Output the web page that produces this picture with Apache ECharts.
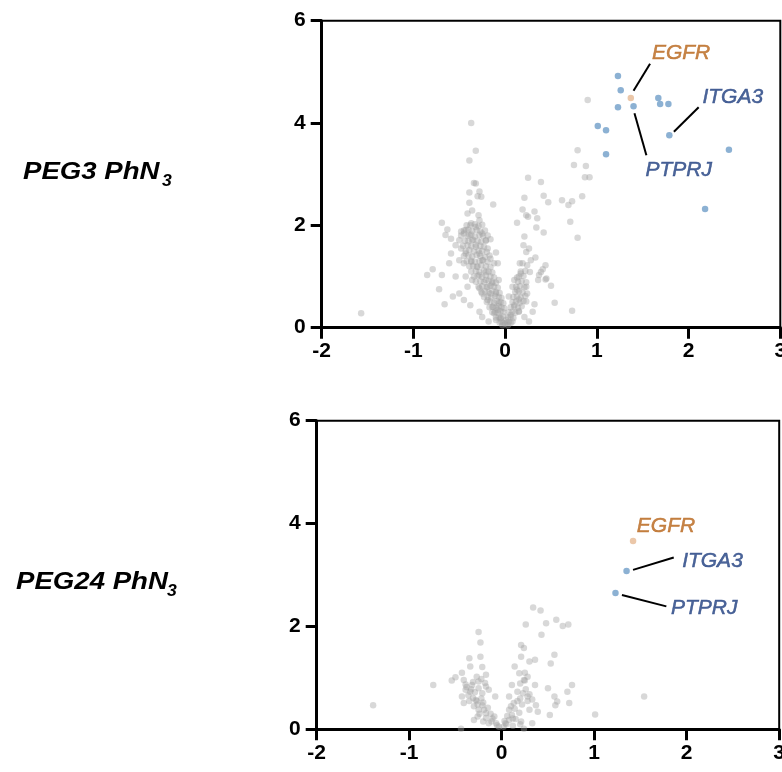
<!DOCTYPE html>
<html>
<head>
<meta charset="utf-8">
<script src="https://cdn.jsdelivr.net/npm/echarts@6/dist/echarts.min.js"></script>
<style>
html,body{margin:0;padding:0;background:#fff;}
#c{width:782px;height:772px;}
</style>
</head>
<body>
<div id="c"></div>
<script>
// ---------- DATA ----------
const xTicks = [-2, -1, 0, 1, 2, 3];
const yTicks = [0, 2, 4, 6];
const panelTitles = ['PEG3 PhN', 'PEG24 PhN'];
const geneNames = ['EGFR', 'ITGA3', 'PTPRJ'];

// PEG3 PhN3 panel: non-significant proteins (log2 FC, -log10 p)
const topGrey = [
[-1.57,0.28],[0.90,4.45],[-0.37,4.00],[-0.32,3.46],[-0.39,3.27],[0.79,3.47],[0.75,3.18],[0.88,3.16],[0.87,2.94],[0.92,2.94],
[0.84,2.57],[0.62,2.49],[0.69,2.40],[0.73,2.47],[0.71,2.07],[0.79,1.76],[0.73,0.33],
[0.25,2.93],[0.39,2.85],[0.42,2.58],[0.47,2.45],[0.21,2.54],[0.19,2.31],[0.23,2.20],[0.32,2.27],[0.35,2.14],[0.34,1.96],
[0.25,2.17],[0.13,2.05],[0.42,1.86],[0.21,1.78],[0.26,1.55],[0.23,1.48],[0.33,1.37],[0.28,1.32],[0.24,1.22],[0.19,1.26],
[0.44,1.22],[0.41,1.14],[0.37,1.03],[0.45,0.96],[0.50,0.82],[0.54,0.49],[0.32,0.46],[0.30,0.31],[0.23,0.51],[0.15,0.55],
[0.13,0.98],[0.10,0.93],[0.17,1.06],[0.08,0.80],[0.13,0.74],[0.04,0.61],[0.10,0.44],[0.15,0.31],[0.06,0.25],[0.23,0.80],
[0.24,0.67],[0.21,0.21],[0.26,0.12],[0.08,0.12],[0.03,0.05],[0.01,0.15],[0.20,1.61],[0.16,1.26],[0.39,1.09],[0.36,0.93],[0.44,0.94],
[-0.13,2.41],[-0.28,2.66],[-0.32,2.82],[-0.34,2.83],[-0.39,2.64],[-0.26,2.56],[-0.39,2.44],[-0.36,2.29],[-0.41,2.23],[-0.29,2.20],
[-0.28,2.10],[-0.37,2.04],[-0.32,1.97],[-0.43,1.91],[-0.48,1.88],[-0.69,2.05],[-0.63,1.92],[-0.65,1.81],[-0.59,1.74],[-0.50,1.71],
[-0.39,1.81],[-0.36,1.71],[-0.25,1.84],[-0.21,1.71],[-0.16,1.73],[-0.48,1.55],[-0.54,1.61],[-0.43,1.45],[-0.32,1.58],[-0.28,1.45],
[-0.19,1.55],[-0.25,1.32],[-0.37,1.29],[-0.45,1.26],[-0.50,1.32],[-0.31,1.19],[-0.16,1.35],[-0.12,1.26],[-0.21,1.09],[-0.28,1.03],
[-0.36,0.93],[-0.43,1.00],[-0.54,1.00],[-0.61,1.26],[-0.69,1.03],[-0.79,1.14],[-0.85,1.03],[-0.72,0.75],[-0.57,0.61],[-0.66,0.46],
[-0.45,0.54],[-0.38,0.44],[-0.28,0.77],[-0.25,0.67],[-0.19,0.80],[-0.14,0.87],[-0.10,0.67],[-0.19,0.54],[-0.14,0.41],[-0.08,0.35],
[-0.28,0.31],[-0.05,0.18],[-0.10,0.15],[-0.18,0.12],[-0.03,0.05],[-0.25,0.21],[-0.12,0.28],[-0.07,0.48],[-0.16,0.67],[-0.21,0.93],
[-0.41,0.80],[-0.50,0.67],[-0.10,1.47],[-0.08,1.26],[-0.45,1.84],[-0.59,1.45],[-0.07,0.93],[-0.30,2.57],
[-0.42,2.00],[-0.38,2.00],[-0.33,2.02],[-0.29,1.99],[-0.25,2.01],
[-0.45,1.90],[-0.40,1.92],[-0.36,1.89],[-0.31,1.91],[-0.27,1.88],[-0.22,1.90],
[-0.48,1.80],[-0.41,1.79],[-0.37,1.82],[-0.33,1.78],[-0.28,1.81],[-0.24,1.79],[-0.19,1.80],
[-0.44,1.70],[-0.40,1.69],[-0.35,1.72],[-0.30,1.70],[-0.26,1.68],[-0.21,1.70],
[-0.46,1.60],[-0.41,1.61],[-0.37,1.59],[-0.32,1.62],[-0.27,1.60],[-0.23,1.58],
[-0.43,1.50],[-0.39,1.52],[-0.34,1.49],[-0.29,1.51],[-0.25,1.50],[-0.20,1.48],
[-0.45,1.40],[-0.40,1.41],[-0.36,1.39],[-0.31,1.42],[-0.27,1.40],[-0.22,1.38],[-0.17,1.41],
[-0.42,1.30],[-0.37,1.31],[-0.33,1.29],[-0.28,1.30],[-0.24,1.32],[-0.19,1.29],
[-0.39,1.20],[-0.35,1.21],[-0.30,1.19],[-0.26,1.22],[-0.21,1.20],[-0.16,1.18],
[-0.37,1.10],[-0.32,1.11],[-0.28,1.09],[-0.23,1.12],[-0.18,1.10],[-0.14,1.08],
[-0.34,1.00],[-0.30,1.01],[-0.25,0.99],[-0.21,1.02],[-0.16,1.00],[-0.12,0.98],
[-0.32,0.90],[-0.27,0.91],[-0.23,0.89],[-0.18,0.92],[-0.14,0.90],[-0.10,0.88],
[-0.29,0.80],[-0.25,0.81],[-0.20,0.79],[-0.16,0.82],[-0.12,0.80],[-0.08,0.78],
[-0.26,0.70],[-0.22,0.71],[-0.18,0.69],[-0.14,0.72],[-0.10,0.70],[-0.06,0.68],
[-0.23,0.60],[-0.19,0.61],[-0.15,0.59],[-0.11,0.62],[-0.07,0.60],[-0.04,0.58],
[-0.20,0.50],[-0.16,0.51],[-0.12,0.49],[-0.09,0.52],[-0.05,0.50],[-0.02,0.48],
[-0.17,0.40],[-0.13,0.41],[-0.10,0.39],[-0.07,0.42],[-0.04,0.40],[-0.01,0.38],
[-0.14,0.30],[-0.11,0.31],[-0.08,0.29],[-0.05,0.32],[-0.02,0.30],
[-0.10,0.20],[-0.07,0.21],[-0.05,0.19],[-0.02,0.22],
[-0.06,0.10],[-0.04,0.11],[-0.02,0.09],[0.00,0.08],
[0.02,0.10],[0.04,0.11],[0.06,0.09],
[0.03,0.20],[0.06,0.21],[0.09,0.19],
[0.04,0.30],[0.08,0.31],[0.11,0.29],[0.15,0.32],
[0.06,0.40],[0.10,0.41],[0.14,0.39],[0.18,0.42],
[0.08,0.50],[0.12,0.51],[0.16,0.49],[0.20,0.52],
[0.09,0.60],[0.13,0.61],[0.17,0.59],[0.22,0.62],
[0.11,0.70],[0.15,0.71],[0.19,0.69],
[0.12,0.80],[0.16,0.81],[0.21,0.79],
[0.14,0.90],[0.18,0.91],[0.23,0.89],
[0.15,1.00],[0.20,1.01],
[0.17,1.10],[0.22,1.11],[0.27,1.09]
];
// PEG3 PhN3 panel: significant proteins
const topBlue = [[1.23,4.92],[1.26,4.64],[1.23,4.31],[1.67,4.49],[1.69,4.37],[1.78,4.37],[1.01,3.94],[1.10,3.86],[1.10,3.39],[2.44,3.48],[2.18,2.32]];
// named genes: EGFR, ITGA3, PTPRJ
const topGenes = [[1.37,4.49],[1.79,3.76],[1.40,4.33]];
// label anchors and leader lines (data units)
const topLabelPos = [[1.60,5.37],[2.15,4.51],[1.53,3.08]];
const topLeaders = [[[1.58,5.16],[1.40,4.63]], [[2.11,4.31],[1.84,3.83]], [[1.41,4.19],[1.54,3.37]]];

// PEG24 PhN3 panel
const bottomGrey = [
[-1.39,0.47],[-0.74,0.86],[1.01,0.29],[1.54,0.64],[-0.25,1.89],[-0.23,1.69],[-0.35,1.38],[-0.23,1.41],[-0.34,1.22],[-0.43,1.10],
[-0.50,1.01],[-0.54,0.95],[-0.41,0.96],[-0.21,1.21],[-0.17,1.06],[-0.32,0.86],[-0.39,0.77],[-0.43,0.64],[-0.41,0.51],[-0.28,0.57],
[-0.21,0.70],[-0.14,0.77],[-0.07,0.64],[-0.25,0.38],[-0.30,0.18],[-0.17,0.31],[-0.10,0.21],[-0.05,0.08],[-0.14,0.12],[-0.21,0.47],
[-0.34,0.73],[-0.25,0.93],[-0.17,0.83],[-0.44,0.01],
[0.34,2.37],[0.42,2.31],[0.26,2.04],[0.48,2.06],[0.59,2.13],[0.66,2.01],[0.72,2.04],[0.43,1.84],[0.21,1.64],[0.24,1.58],
[0.21,1.41],[0.36,1.35],[0.30,1.32],[0.57,1.45],[0.53,1.28],[0.14,1.22],[0.19,1.09],[0.25,1.10],[0.24,0.96],[0.11,0.86],
[0.20,0.89],[0.36,0.86],[0.50,0.80],[0.76,0.86],[0.71,0.73],[0.57,0.64],[0.60,0.54],[0.73,0.51],[0.58,0.47],[0.28,0.64],
[0.37,0.47],[0.39,0.34],[0.52,0.28],[0.08,0.64],[0.17,0.73],[0.13,0.51],[0.08,0.38],[0.12,0.21],[0.04,0.12],[0.24,0.01],
[0.21,0.15],[0.30,0.38],[0.33,0.12],
[-0.38,0.82],[-0.33,0.78],[-0.29,0.72],[-0.25,0.80],[-0.36,0.66],[-0.31,0.61],[-0.27,0.55],[-0.22,0.60],[-0.35,0.55],[-0.30,0.45],
[-0.26,0.48],[-0.20,0.52],[-0.24,0.30],[-0.19,0.38],[-0.15,0.42],[-0.12,0.30],[-0.08,0.25],[-0.17,0.22],[-0.11,0.15],[-0.06,0.12],
[-0.03,0.05],[-0.20,0.15],[-0.26,0.25],[-0.31,0.92],[-0.27,1.02],[-0.22,0.98],[-0.39,0.87],[-0.18,0.90],
[0.02,0.05],[0.05,0.10],[0.08,0.18],[0.11,0.28],[0.14,0.40],[0.17,0.55],[0.20,0.60],[0.23,0.70],[0.26,0.78],[0.22,0.48],
[0.28,0.55],[0.19,0.32],[0.15,0.20],[0.06,0.26],[0.10,0.45],[0.25,0.95],[0.28,1.02],[0.30,0.68],[0.33,0.58],[0.12,0.07],
[0.20,0.10],[0.03,0.16]
];
const bottomBlue = [];
const bottomGenes = [[1.42,3.66],[1.35,3.08],[1.23,2.65]];
const bottomLabelPos = [[1.46,3.94],[1.95,3.26],[1.83,2.36]];
const bottomLeaders = [null, [[1.42,3.10],[1.86,3.34]], [[1.30,2.61],[1.78,2.39]]];

// ---------- STYLE ----------
const FONT = '"Liberation Sans", Arial, Helvetica, sans-serif';
const GREY = 'rgba(160,160,160,0.52)';
const BLUE = '#6f9dc8';
const EGFR_DOT = '#e6b994';
const geneDotColors = [EGFR_DOT, BLUE, BLUE];
const geneTextColors = ['#b8651a', '#1f3f80', '#1f3f80'];

const chart = echarts.init(document.getElementById('c'), null, {renderer: 'canvas'});

function xAxisFor(i) {
  return {
    gridIndex: i, type: 'value', min: xTicks[0], max: xTicks[xTicks.length - 1], interval: 1,
    axisLine: {show: true, onZero: false, lineStyle: {color: '#000', width: 3}},
    axisTick: {show: true, length: 11, lineStyle: {color: '#000', width: 3}},
    axisLabel: {color: '#000', fontWeight: 'bold', fontSize: 21, fontFamily: FONT, margin: 13},
    splitLine: {show: false}
  };
}
function yAxisFor(i) {
  return {
    gridIndex: i, type: 'value', min: yTicks[0], max: yTicks[yTicks.length - 1], interval: 2,
    axisLine: {show: true, onZero: false, lineStyle: {color: '#000', width: 3}},
    axisTick: {show: true, length: 11, lineStyle: {color: '#000', width: 3}},
    axisLabel: {color: '#000', fontWeight: 'bold', fontSize: 21, fontFamily: FONT, margin: 16},
    splitLine: {show: false}
  };
}

function panelSeries(i, grey, blue, genes, labelPos, leaders) {
  const out = [];
  out.push({type: 'scatter', xAxisIndex: i, yAxisIndex: i, data: grey, symbolSize: 6.5,
    itemStyle: {color: GREY}, z: 2, silent: true});
  out.push({type: 'scatter', xAxisIndex: i, yAxisIndex: i, data: blue, symbolSize: 6.5,
    itemStyle: {color: BLUE}, z: 3, silent: true});
  out.push({type: 'scatter', xAxisIndex: i, yAxisIndex: i, symbolSize: 6.5, z: 4, silent: true,
    data: genes.map((g, k) => ({value: g, itemStyle: {color: geneDotColors[k]}}))});
  const lines = [];
  leaders.forEach(l => { if (l) lines.push([{coord: l[0]}, {coord: l[1]}]); });
  out.push({type: 'scatter', xAxisIndex: i, yAxisIndex: i, symbolSize: 0.1, z: 5, silent: true,
    itemStyle: {color: 'rgba(0,0,0,0)'},
    data: labelPos.map((p, k) => ({value: p, name: geneNames[k],
      label: {show: true, position: 'right', distance: 0, formatter: '{b}',
        color: geneTextColors[k], textBorderColor: geneTextColors[k], textBorderWidth: 0.5,
        fontStyle: 'italic', fontSize: 21, fontFamily: FONT}})),
    markLine: {silent: true, symbol: ['none', 'none'], animation: false,
      label: {show: false}, lineStyle: {color: '#000', width: 2, type: 'solid'},
      emphasis: {disabled: true}, data: lines}
  });
  return out;
}

const option = {
  animation: false,
  backgroundColor: '#fff',
  grid: [
    {left: 321.7, right: 1.7, top: 20.7, height: 307, show: true, borderColor: '#000', borderWidth: 2, outerBoundsMode: 'none'},
    {left: 316.7, right: 2.8, top: 420.7, height: 308.6, show: true, borderColor: '#000', borderWidth: 2, outerBoundsMode: 'none'}
  ],
  xAxis: [xAxisFor(0), xAxisFor(1)],
  yAxis: [yAxisFor(0), yAxisFor(1)],
  series: [].concat(
    panelSeries(0, topGrey, topBlue, topGenes, topLabelPos, topLeaders),
    panelSeries(1, bottomGrey, bottomBlue, bottomGenes, bottomLabelPos, bottomLeaders)
  ),
  graphic: [
    {type: 'text', x: 23, y: 172, scaleX: 1.15, style: {text: panelTitles[0], font: 'italic bold 24px ' + FONT, fill: '#000', textVerticalAlign: 'middle', textAlign: 'left'}},
    {type: 'text', x: 162, y: 182, scaleX: 1.1, style: {text: '3', font: 'italic bold 16px ' + FONT, fill: '#000', textVerticalAlign: 'middle', textAlign: 'left'}},
    {type: 'text', x: 16, y: 582, scaleX: 1.15, style: {text: panelTitles[1], font: 'italic bold 24px ' + FONT, fill: '#000', textVerticalAlign: 'middle', textAlign: 'left'}},
    {type: 'text', x: 167, y: 592, scaleX: 1.1, style: {text: '3', font: 'italic bold 16px ' + FONT, fill: '#000', textVerticalAlign: 'middle', textAlign: 'left'}}
  ]
};
chart.setOption(option);
</script>
</body>
</html>
